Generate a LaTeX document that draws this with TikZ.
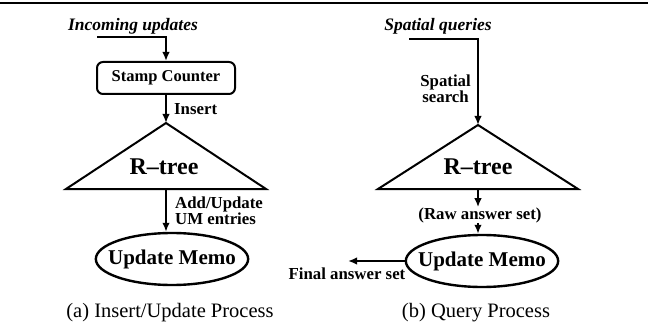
\documentclass[tikz,border=0pt]{standalone}
\usepackage{fontspec}
\setmainfont{Liberation Serif}
\usetikzlibrary{arrows.meta,shapes.geometric}

\tikzset{
  flow/.style={line width=2.4pt,-{Latex[length=9pt,width=7.5pt]}},
  lbl/.style={inner sep=0pt,font=\bfseries\fontsize{16.8}{16}\selectfont},
  intext/.style={inner sep=0pt,font=\bfseries\itshape\fontsize{17.5}{18}\selectfont},
  stampbox/.style={draw,line width=2pt,rounded corners=6pt,minimum width=138pt,minimum height=32pt,inner sep=0pt,font=\bfseries\fontsize{16.5}{17}\selectfont},
  treetxt/.style={inner sep=0pt,font=\bfseries\fontsize{24}{24}\selectfont},
  memo/.style={draw,ellipse,line width=2.4pt,minimum width=150pt,minimum height=52pt,inner xsep=-10pt,inner ysep=0pt,font=\bfseries\fontsize{21}{21}\selectfont},
  capt/.style={inner sep=0pt,font=\fontsize{20.5}{21}\selectfont}
}

\begin{document}
\begin{tikzpicture}[x=1pt,y=-1pt]
  \useasboundingbox (0,0) rectangle (648,334);
  \draw[line width=1.4pt] (0,3) -- (648,3);

  % (a) insert/update
  \node[intext] (inc) at (133,26) {Incoming updates};
  \coordinate (incL) at (97,37);
  \node[stampbox] (stamp) at (166,78) {Stamp Counter};
  \draw[flow] (incL) -| (stamp.north);
  \coordinate (apexA) at (166,123);
  \coordinate (baseA) at (166,189);
  \draw[line width=2pt,line join=miter] (apexA) -- (266,189) -- (66,189) -- cycle;
  \node[treetxt] (treeA) at (164,167) {R--tree};
  \draw[flow] (stamp.south) -- (apexA) node[lbl,midway,right=7pt] {Insert};
  \node[memo] (memoA) at (172,259) {Update Memo};
  \draw[flow] (baseA) -- (baseA |- memoA.north)
    node[lbl,midway,right=8pt,align=left] {Add/Update\\UM entries};
  \node[capt] (capA) at (170,313) {(a) Insert/Update Process};

  % (b) query
  \node[intext] (spq) at (438,26) {Spatial queries};
  \coordinate (spqL) at (409,39);
  \coordinate (apexB) at (478,125);
  \coordinate (baseB) at (478,189);
  \draw[flow] (spqL) -| (apexB)
    node[lbl,pos=0.79,left=6pt,align=center] {Spatial\\search};
  \draw[line width=2pt,line join=miter] (apexB) -- (578,189) -- (378,189) -- cycle;
  \node[treetxt] (treeB) at (478,167) {R--tree};
  \node[lbl] (raw) at (480,215) {(Raw answer set)};
  \node[memo] (memoB) at (482,261) {Update Memo};
  \draw[flow] (baseB) -- (baseB |- raw.north);
  \draw[flow] (baseB |- raw.south) -- (baseB |- memoB.north);
  \coordinate (finEnd) at (348,261);
  \draw[flow] (memoB.west) -- (finEnd);
  \node[lbl] (final) at (347,274) {Final answer set};
  \node[capt] (capB) at (476,313) {(b) Query Process};
\end{tikzpicture}
\end{document}
